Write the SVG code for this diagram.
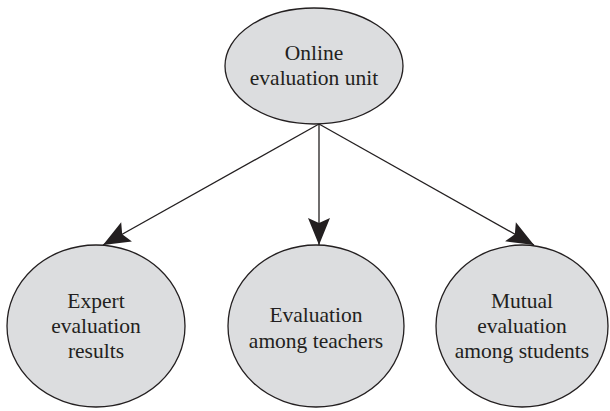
<svg xmlns="http://www.w3.org/2000/svg" width="610" height="411" viewBox="0 0 610 411">
<style>
.node{fill:#dcdddf;stroke:#231f20;stroke-width:1.3}
.lbl{font-family:"Liberation Serif",serif;font-size:21.5px;fill:#231f20;text-anchor:middle}
.edge{stroke:#231f20;stroke-width:1.3;fill:none}
</style>
<defs>
<marker id="arr" markerUnits="userSpaceOnUse" viewBox="-28 -12 30 24" markerWidth="30" markerHeight="24" refX="0" refY="0" orient="auto">
<path d="M0,0 L-27,-11 L-22,0 L-27,11 Z" fill="#231f20"/>
</marker>
</defs>
<rect width="610" height="411" fill="#ffffff"/>
<g id="connectors">
<line class="edge" x1="319" y1="124" x2="103" y2="245" marker-end="url(#arr)"/>
<line class="edge" x1="319" y1="124" x2="319" y2="245" marker-end="url(#arr)"/>
<line class="edge" x1="319" y1="124" x2="534" y2="245" marker-end="url(#arr)"/>
</g>
<g id="online">
<ellipse class="node" cx="314" cy="66" rx="89" ry="58"/>
<text class="lbl" x="314" y="60">Online</text>
<text class="lbl" x="314" y="85">evaluation unit</text>
</g>
<g id="expert">
<ellipse class="node" cx="96" cy="326" rx="89" ry="81"/>
<text class="lbl" x="96" y="308">Expert</text>
<text class="lbl" x="96" y="333">evaluation</text>
<text class="lbl" x="96" y="358">results</text>
</g>
<g id="teachers">
<ellipse class="node" cx="316" cy="326" rx="88" ry="81"/>
<text class="lbl" x="316" y="322">Evaluation</text>
<text class="lbl" x="316" y="348">among teachers</text>
</g>
<g id="students">
<ellipse class="node" cx="522" cy="326" rx="86" ry="81"/>
<text class="lbl" x="522" y="308">Mutual</text>
<text class="lbl" x="522" y="333">evaluation</text>
<text class="lbl" x="522" y="358">among students</text>
</g>
</svg>
